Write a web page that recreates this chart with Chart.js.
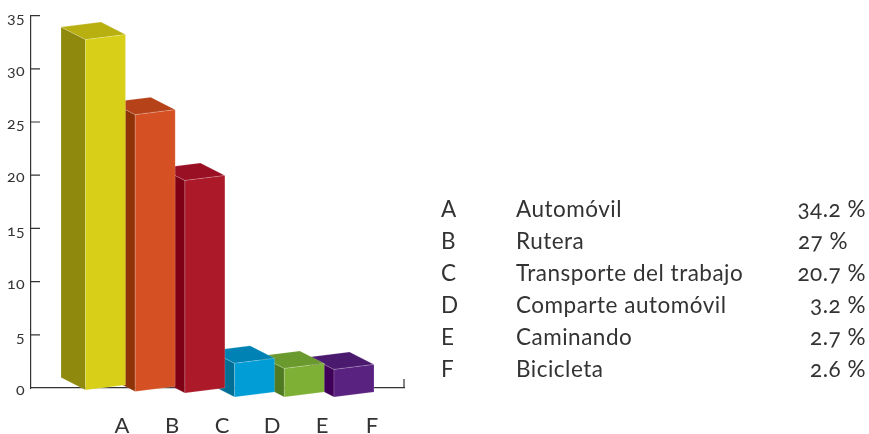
<!DOCTYPE html>
<html><head><meta charset="utf-8">
<script src="https://cdn.jsdelivr.net/npm/chart.js@4"></script>
<style>
@font-face{font-family:LatoOld;src:local('Lato Regular'),local('Lato');font-feature-settings:"onum" 1}
html,body{margin:0;padding:0;background:#fff;overflow:hidden}
#wrap{position:relative;width:869px;height:434px}
canvas{position:absolute;left:0;top:0}
.c{position:absolute;font:22.5px Lato,sans-serif;letter-spacing:.5px;color:#333;line-height:26px;white-space:nowrap;font-feature-settings:"onum" 1;font-variant-numeric:oldstyle-nums}
</style></head><body>
<div id="wrap"><canvas id="chart" width="869" height="434"></canvas></div>
<script>
const categories = ['A','B','C','D','E','F'];
const names = ['Automóvil','Rutera','Transporte del trabajo','Comparte automóvil','Caminando','Bicicleta'];
const percentLabels = ['34.2 %','27 %','20.7 %','3.2 %','2.7 %','2.6 %'];
const values = [34.2,27,20.7,3.2,2.7,2.6];
const yTicks = [0,5,10,15,20,25,30,35];
const frontColors = ['#D8D018','#D55023','#AC1A2A','#009DD6','#7FB036','#5A2280'];
const sideColors  = ['#8F8A0D','#8E3208','#7D0014','#006F96','#4F7A22','#3E0058'];
const topColors   = ['#B8AF10','#B54218','#991024','#0082B4','#6A9A2E','#4A1A6E'];
const baseDrops = [2,3.5,5,9,9,9];

const ink = '#333';
const prisms = {
  id:'prisms',
  beforeDatasetDraw(chart,args){
    const ctx = chart.ctx, els = chart.getDatasetMeta(args.index).data;
    const dx=-24.5, dy=-12.5, skew=-5;
    const poly=(pts,fill)=>{
      ctx.beginPath(); pts.forEach((p,i)=>i?ctx.lineTo(p[0],p[1]):ctx.moveTo(p[0],p[1])); ctx.closePath();
      ctx.fillStyle=fill; ctx.fill();
      ctx.lineWidth=0.6; ctx.strokeStyle='rgba(255,255,255,.28)'; ctx.stroke();
    };
    ctx.save();
    for(let i=els.length-1;i>=0;i--){
      const e=els[i], w=e.width, l=e.x-w/2-16.5-0.3*i, r=l+w;
      const bl=e.base+baseDrops[i], tl=bl-(e.base-e.y)-1;
      const br=bl+skew, tr=tl+skew;
      poly([[l,tl],[l+dx,tl+dy],[l+dx,bl+dy],[l,bl]],sideColors[i]);
      poly([[l,tl],[l+dx,tl+dy],[r+dx,tr+dy],[r,tr]],topColors[i]);
      poly([[l,tl],[r,tr],[r,br],[l,bl]],e.options.backgroundColor);
    }
    ctx.restore();
    return false;
  }
};
const axisMarks = {
  id:'axisMarks',
  beforeDatasetsDraw(chart){
    const ctx=chart.ctx, y=chart.scales.y, x=chart.scales.x;
    ctx.save(); ctx.strokeStyle=ink; ctx.lineWidth=1.2; ctx.beginPath();
    y.ticks.forEach(t=>{ if(t.value===0) return; const p=y.getPixelForValue(t.value); ctx.moveTo(x.left,p); ctx.lineTo(x.left+9,p); });
    ctx.moveTo(x.right,y.bottom); ctx.lineTo(x.right,y.bottom-9);
    ctx.stroke(); ctx.restore();
  }
};
function build(){
new Chart(document.getElementById('chart'),{
  type:'bar',
  data:{datasets:[{
    data:values.map((v,i)=>({x:i,y:v})),
    backgroundColor:frontColors,
    barThickness:40, xAxisID:'x', yAxisID:'yBars', clip:false
  }]},
  plugins:[prisms,axisMarks],
  options:{
    responsive:false, animation:false,
    layout:{padding:{left:0,right:465,top:15.5,bottom:0}},
    plugins:{legend:{display:false},tooltip:{enabled:false}},
    scales:{
      x:{type:'linear',offset:false,min:-1.82,max:5.64,
        afterBuildTicks(a){a.ticks=categories.map((_,i)=>({value:i}));},
        afterFit(a){a.height=46;},
        grid:{display:false,drawTicks:false,offset:false},
        border:{display:true,color:ink,width:1.2},
        ticks:{autoSkip:false,maxRotation:0,padding:25,color:ink,font:{family:'Lato',size:22},callback:v=>categories[v]}
      },
      y:{type:'linear',position:'left',min:0,max:35,
        afterBuildTicks(a){a.ticks=yTicks.map(v=>({value:v}));},
        afterFit(a){a.width=31;},
        grid:{display:false,drawTicks:false},
        border:{display:true,color:ink,width:1.2},
        ticks:{padding:6,labelOffset:2,color:ink,font:{family:'LatoOld, Lato',size:16}}
      },
      yBars:{type:'linear',display:false,min:0,max:36.45}
    }
  }
});
}
const wrap=document.getElementById('wrap');
const add=(txt,style)=>{const d=document.createElement('div');d.className='c';d.textContent=txt;d.style.cssText=style;wrap.appendChild(d);};
categories.forEach((c,i)=>{
  const top=196+32*i;
  add(c,`left:441px;top:${top}px`);
  add(names[i],`left:516px;top:${top}px`);
  add(percentLabels[i],i===1?`right:21px;top:${top}px`:`right:3px;top:${top}px`);
});
document.fonts.load('16px LatoOld').then(build,build);
</script>
</body></html>
